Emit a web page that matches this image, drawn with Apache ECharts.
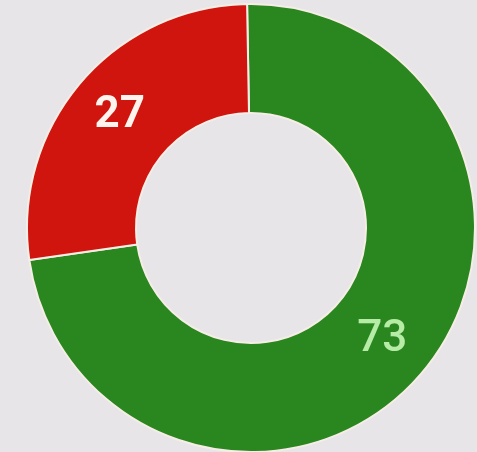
<!DOCTYPE html>
<html>
<head>
<meta charset="utf-8">
<script src="https://cdn.jsdelivr.net/npm/echarts@6/dist/echarts.min.js"></script>
<style>
  html, body { margin: 0; padding: 0; background: #e7e5e7; }
  #chart { width: 477px; height: 452px; }
</style>
</head>
<body>
<div id="chart"></div>
<script>
// Two-part share donut
const sliceNames = ['Green', 'Red'];
const sliceValues = [73, 27];
const sliceColors = ['#2a861f', '#d0140e'];
const labelColors = ['#b6eca6', '#fff4ee'];
const labelWeights = [500, 'bold'];

const chart = echarts.init(document.getElementById('chart'), null, { renderer: 'canvas' });

const data = sliceNames.map((name, i) => ({
  name,
  value: sliceValues[i],
  itemStyle: { color: sliceColors[i] },
  label: { color: labelColors[i], fontWeight: labelWeights[i] }
}));

chart.setOption({
  backgroundColor: '#e7e5e7',
  animation: false,
  series: [{
    type: 'pie',
    center: [251, 228],
    radius: [115, 224],
    startAngle: 91,
    clockwise: true,
    avoidLabelOverlap: false,
    itemStyle: { borderColor: '#f6eee6', borderWidth: 2 },
    label: {
      show: true,
      position: 'inside',
      formatter: '{c}',
      fontFamily: 'Roboto, "DejaVu Sans", sans-serif',
      fontSize: 44
    },
    labelLine: { show: false },
    emphasis: { disabled: true },
    data
  }]
});
</script>
</body>
</html>
